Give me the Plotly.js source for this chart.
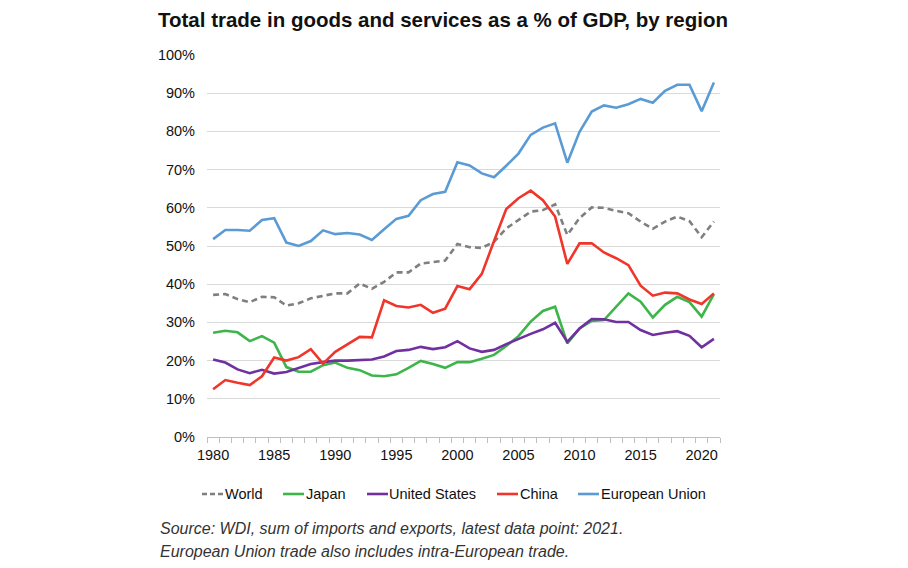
<!DOCTYPE html>
<html>
<head>
<meta charset="utf-8">
<script src="https://cdn.plot.ly/plotly-3.0.1.min.js"></script>
<style>html,body{margin:0;padding:0;background:#fff;}#chart{width:908px;height:568px;}</style>
</head>
<body>
<div id="chart"></div>
<script>
const years = [1980,1981,1982,1983,1984,1985,1986,1987,1988,1989,1990,1991,1992,1993,1994,1995,1996,1997,1998,1999,2000,2001,2002,2003,2004,2005,2006,2007,2008,2009,2010,2011,2012,2013,2014,2015,2016,2017,2018,2019,2020,2021];
const world = [37.2,37.4,36.1,35.3,36.7,36.6,34.4,35.0,36.3,37.0,37.6,37.6,40.2,38.8,40.6,43.1,43.1,45.4,45.8,46.2,50.5,49.7,49.5,51.1,54.6,56.8,59.0,59.4,60.9,52.9,57.3,60.1,60.0,59.2,58.6,56.4,54.5,56.4,57.7,56.5,52.3,56.4];
const japan = [27.3,27.8,27.4,25.1,26.4,24.7,18.3,17.1,17.1,18.8,19.5,18.1,17.5,16.1,15.9,16.4,18.1,19.9,19.1,18.1,19.6,19.6,20.5,21.5,23.8,26.4,30.2,33.0,34.1,24.5,28.4,30.4,30.6,34.1,37.6,35.4,31.3,34.6,36.7,35.3,31.5,37.4];
const unitedStates = [20.3,19.5,17.7,16.7,17.6,16.6,17.0,18.1,19.1,19.6,20.0,20.0,20.2,20.3,21.1,22.5,22.8,23.6,23.0,23.5,25.1,23.2,22.3,22.8,24.3,25.7,27.0,28.2,29.9,24.9,28.4,30.9,30.8,30.1,30.1,28.0,26.7,27.3,27.7,26.5,23.5,25.7];
const china = [12.5,14.9,14.2,13.6,15.9,20.8,20.0,20.9,23.0,19.2,22.3,24.3,26.2,26.1,35.8,34.3,33.9,34.6,32.5,33.6,39.5,38.7,42.7,51.3,59.7,62.5,64.5,62.0,57.7,45.3,50.7,50.7,48.3,46.8,45.0,39.6,37.0,37.8,37.6,36.0,34.8,37.6];
const europeanUnion = [51.8,54.2,54.2,54.0,56.8,57.3,50.9,50.0,51.3,54.1,53.1,53.4,53.0,51.6,54.4,57.1,57.9,62.0,63.6,64.2,71.9,71.1,69.0,68.0,71.0,74.2,79.1,81.0,82.1,71.8,79.9,85.2,86.8,86.2,87.1,88.5,87.5,90.6,92.2,92.2,85.3,92.8];
const seriesNames = ["World","Japan","United States","China","European Union"];
const xTickVals = [1980,1985,1990,1995,2000,2005,2010,2015,2020];
const yTickVals = [0,10,20,30,40,50,60,70,80,90,100];
const yTickText = ["0%","10%","20%","30%","40%","50%","60%","70%","80%","90%","100%"];
const titleText = "Total trade in goods and services as a % of GDP, by region";
const sourceLines = ["Source: WDI, sum of imports and exports, latest data point: 2021.","European Union trade also includes intra-European trade."];

const colors = ["#7f7f7f","#3db54a","#7030a0","#f0362a","#5b9bd5"];
const dashes = ["6px,4px","solid","solid","solid","solid"];
const seriesData = [world, japan, unitedStates, china, europeanUnion];
const traces = seriesData.map((vals, i) => ({
  x: years, y: vals, name: seriesNames[i], type: "scatter", mode: "lines",
  line: {color: colors[i], width: 2.6, dash: dashes[i]},
  hoverinfo: "skip", showlegend: false
}));
const halfTicks = [];
for (let k = 0; k <= years.length; k++) halfTicks.push(years[0] - 0.5 + k);
traces.push({x: [years[0]], y: [0], xaxis: "x2", yaxis: "y", mode: "none", type: "scatter", showlegend: false, hoverinfo: "skip"});

const W = 908, H = 568, ML = 207, MR = 188, MT = 55, MB = 131;
const PW = W - ML - MR, PH = H - MT - MB;
const px2x = p => (p - ML) / PW;
const py2y = p => (H - MB - p) / PH;

const font = "Arial, 'Liberation Sans', sans-serif";
const tickSize = 14.5;

const legSym = [202, 283, 367, 497, 578];
const legTxt = [225, 306, 389, 520, 601];
const legY = 494;
const shapes = [];
const annotations = [];
seriesNames.forEach((n, i) => {
  shapes.push({type: "line", xref: "paper", yref: "paper", x0: px2x(legSym[i]), x1: px2x(legSym[i] + 21), y0: py2y(legY), y1: py2y(legY),
               line: {color: colors[i], width: 2.6, dash: dashes[i] === "solid" ? "solid" : "5px,3px"}});
  annotations.push({text: n, xref: "paper", yref: "paper", x: px2x(legTxt[i]), xanchor: "left", y: py2y(legY), yanchor: "middle",
                    showarrow: false, xshift: -2, font: {family: font, size: tickSize, color: "#111"}});
});
annotations.push({text: "<i>" + sourceLines[0] + "</i>", xref: "paper", yref: "paper", x: px2x(160), xanchor: "left", y: py2y(528), yanchor: "middle", showarrow: false, xshift: -2, font: {family: font, size: 16, color: "#333"}});
annotations.push({text: "<i>" + sourceLines[1] + "</i>", xref: "paper", yref: "paper", x: px2x(160), xanchor: "left", y: py2y(551), yanchor: "middle", showarrow: false, xshift: -2, font: {family: font, size: 16, color: "#333"}});

const layout = {
  width: W, height: H,
  margin: {l: ML, r: MR, t: MT, b: MB},
  paper_bgcolor: "#fff", plot_bgcolor: "#fff",
  font: {family: font, size: 14, color: "#1a1a1a"},
  title: {text: "<b>" + titleText + "</b>", xref: "paper", x: px2x(443), xanchor: "center", yref: "container", y: 1 - 20 / H, yanchor: "middle",
          font: {family: font, size: 20.5, color: "#111"}},
  xaxis: {range: [1979.5, 2021.5], tickvals: xTickVals, ticks: "", showgrid: false, zeroline: false, showline: false,
          tickfont: {family: font, size: tickSize, color: "#111"}, ticklabelstandoff: 7},
  xaxis2: {range: [1979.5, 2021.5], overlaying: "x", side: "bottom", tickvals: halfTicks, ticks: "outside", ticklen: 5, tickcolor: "#bfbfbf",
           showticklabels: false, showgrid: false, zeroline: false, showline: true, linecolor: "#bfbfbf", linewidth: 1, anchor: "y"},
  yaxis: {range: [0, 100], tickvals: yTickVals, ticktext: yTickText, showgrid: true, gridcolor: "#d9d9d9", gridwidth: 1,
          zeroline: false, showline: false, ticks: "", tickfont: {family: font, size: tickSize, color: "#111"}, ticklabelstandoff: 11},
  showlegend: false,
  shapes: shapes,
  annotations: annotations
};
Plotly.newPlot("chart", traces, layout, {displayModeBar: false, staticPlot: true});
</script>
</body>
</html>
